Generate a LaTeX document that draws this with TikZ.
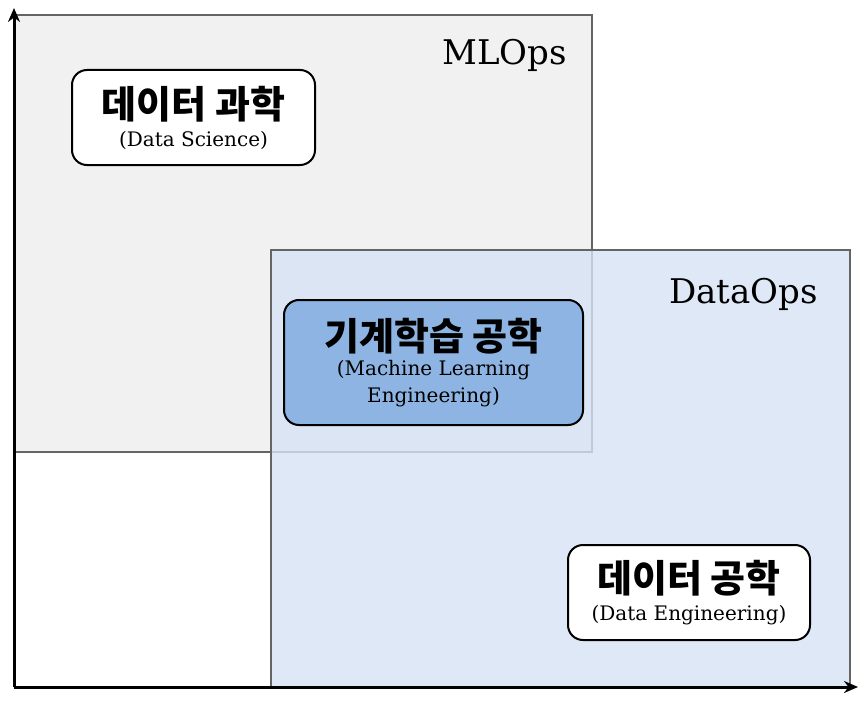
\documentclass[tikz,border=0pt]{standalone}
\usepackage{fontspec}
\setmainfont{DejaVu Serif}
\newfontfamily\kr{Noto Sans CJK KR}
\usetikzlibrary{arrows.meta}
\definecolor{mlfill}{RGB}{241,241,241}
\definecolor{dofill}{RGB}{214,227,244}
\definecolor{mlbox}{RGB}{141,180,226}
\definecolor{frame}{RGB}{100,100,100}
\newcommand{\kotitle}[1]{{\kr\bfseries\fontsize{38}{42}\selectfont #1}}
\tikzset{
  region/.style={draw=frame, line width=2pt},
  role/.style={draw=black, line width=2pt, rounded corners=15pt, inner sep=0pt, align=center,
    font=\fontsize{20}{27}\selectfont},
  axis/.style={line width=3pt, -{Stealth[length=14pt,width=12pt]}},
  tag/.style={font=\fontsize{34}{40}\selectfont, anchor=base east, inner sep=0pt}
}
\begin{document}
\begin{tikzpicture}[x=1pt,y=-1pt]
\useasboundingbox (0,0) rectangle (865,701);
\fill[white] (0,0) rectangle (865,701);
\coordinate (o) at (14,687);
\coordinate (ytop) at (14,8);
\coordinate (xend) at (858,687);
% MLOps region
\draw[region, fill=mlfill] (14,15) rectangle (592,452);
\node[tag] (mlops) at (567,65) {MLOps};
% DataOps region
\draw[region, fill=dofill, fill opacity=0.8, draw opacity=1] (271,250) rectangle (850,687);
\node[tag] (dataops) at (818,303) {DataOps};
% role boxes
\node[role, fill=white, minimum width=243pt, minimum height=95pt] (ds) at (193.5,117.5)
  {\kotitle{데이터 과학}\\[1pt](Data Science)};
\node[role, fill=mlbox, minimum width=299pt, minimum height=125pt] (mle) at (433.5,362.5)
  {\kotitle{기계학습 공학}\\[-2pt](Machine Learning\\Engineering)};
\node[role, fill=white, minimum width=242pt, minimum height=95pt] (de) at (689,592.5)
  {\kotitle{데이터 공학}\\[1pt](Data Engineering)};
% axes
\draw[axis] (o) -- (ytop);
\draw[axis] (o) -- (xend);
\end{tikzpicture}
\end{document}
